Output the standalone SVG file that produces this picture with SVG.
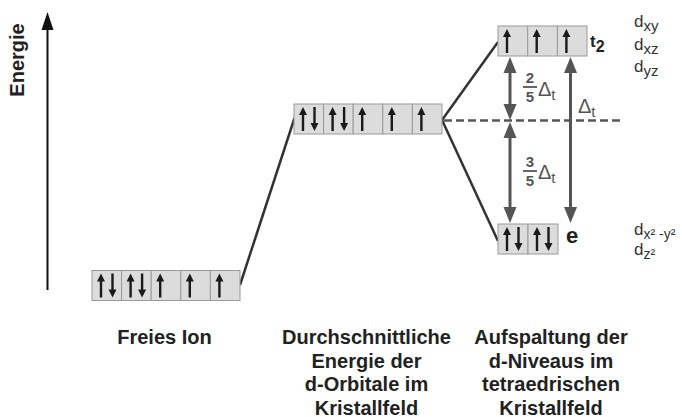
<svg xmlns="http://www.w3.org/2000/svg" width="682" height="417" viewBox="0 0 682 417">
  <style>
    .box { fill: #dcdcdc; stroke: #9a9a9a; stroke-width: 1; }
    .spin { fill: #1a1a1a; }
    .link { stroke: #333; stroke-width: 2.5; fill: none; }
    .gap { stroke: #555; stroke-width: 3; fill: none; }
    .head { fill: #555; }
    .dash { stroke: #555; stroke-width: 2.5; stroke-dasharray: 8 4; fill: none; }
    .cap { font-family: "Liberation Sans", Arial, sans-serif; font-weight: bold; font-size: 20px; fill: #222; text-anchor: middle; }
    .frac { font-family: "Liberation Sans", Arial, sans-serif; font-weight: bold; font-size: 15px; fill: #555; text-anchor: middle; }
    .delta { font-family: "Liberation Sans", Arial, sans-serif; font-size: 20px; fill: #555; }
    .orb { font-family: "Liberation Sans", Arial, sans-serif; font-size: 17px; fill: #333; }
    .lvl { font-family: "Liberation Sans", Arial, sans-serif; font-weight: bold; fill: #222; }
  </style>
  <defs>
    <!-- spin arrows, drawn relative to (arrow x, box top) -->
    <path id="up" class="spin" d="M-1.2,27 V11 H-4 L0,3 L4,11 H1.2 V27 Z"/>
    <path id="down" class="spin" d="M-1.2,3 V19 H-4 L0,27 L4,19 H1.2 V3 Z"/>
    <!-- arrowheads for the splitting gaps, tip at the origin -->
    <path id="tipUp" class="head" d="M0,0 L-6.5,16 L6.5,16 Z"/>
    <path id="tipDown" class="head" d="M0,0 L-6.5,-16 L6.5,-16 Z"/>
  </defs>

  <!-- energy axis -->
  <g id="axis">
    <line x1="47.5" y1="290" x2="47.5" y2="26" stroke="#111" stroke-width="2"/>
    <path d="M47.5,12 L41.5,30 L53.5,30 Z" fill="#111"/>
    <text class="cap" transform="translate(24,60) rotate(-90)">Energie</text>
  </g>

  <!-- connectors -->
  <g id="connectors">
    <line class="link" x1="240" y1="285" x2="294.5" y2="118"/>
    <line class="link" x1="442" y1="120" x2="498" y2="42"/>
    <line class="link" x1="442" y1="120" x2="498" y2="241"/>
    <line class="dash" x1="444" y1="120.5" x2="621" y2="120.5"/>
    <line class="gap" x1="510" y1="70" x2="510" y2="107"/>
    <use href="#tipUp" x="510" y="57"/><use href="#tipDown" x="510" y="120"/>
    <line class="gap" x1="510" y1="134" x2="510" y2="210"/>
    <use href="#tipUp" x="510" y="122"/><use href="#tipDown" x="510" y="223"/>
    <line class="gap" x1="570.5" y1="70" x2="570.5" y2="210"/>
    <use href="#tipUp" x="570.5" y="57"/><use href="#tipDown" x="570.5" y="223"/>
  </g>

  <!-- free ion: five degenerate d orbitals -->
  <g id="free-ion">
    <rect class="box" x="92" y="270.5" width="29.6" height="30"/>
    <rect class="box" x="121.6" y="270.5" width="29.6" height="30"/>
    <rect class="box" x="151.2" y="270.5" width="29.6" height="30"/>
    <rect class="box" x="180.8" y="270.5" width="29.6" height="30"/>
    <rect class="box" x="210.4" y="270.5" width="29.6" height="30"/>
    <use href="#up" x="101" y="270.5"/><use href="#down" x="112.5" y="270.5"/>
    <use href="#up" x="130.6" y="270.5"/><use href="#down" x="142.1" y="270.5"/>
    <use href="#up" x="160.2" y="270.5"/>
    <use href="#up" x="189.8" y="270.5"/>
    <use href="#up" x="219.4" y="270.5"/>
    <text class="cap" x="164.5" y="344">Freies Ion</text>
  </g>

  <!-- mean energy in the crystal field -->
  <g id="average">
    <rect class="box" x="294" y="104" width="29.6" height="30"/>
    <rect class="box" x="323.6" y="104" width="29.6" height="30"/>
    <rect class="box" x="353.2" y="104" width="29.6" height="30"/>
    <rect class="box" x="382.8" y="104" width="29.6" height="30"/>
    <rect class="box" x="412.4" y="104" width="29.6" height="30"/>
    <use href="#up" x="303" y="104"/><use href="#down" x="314.5" y="104"/>
    <use href="#up" x="332.6" y="104"/><use href="#down" x="344.1" y="104"/>
    <use href="#up" x="362.2" y="104"/>
    <use href="#up" x="391.8" y="104"/>
    <use href="#up" x="421.4" y="104"/>
    <text class="cap" x="366.5" y="344">Durchschnittliche</text>
    <text class="cap" x="366.5" y="367.5">Energie der</text>
    <text class="cap" x="366.5" y="391">d-Orbitale im</text>
    <text class="cap" x="366.5" y="414.5">Kristallfeld</text>
  </g>

  <!-- t2 set -->
  <g id="t2">
    <rect class="box" x="498" y="26" width="29.7" height="30"/>
    <rect class="box" x="527.7" y="26" width="29.7" height="30"/>
    <rect class="box" x="557.4" y="26" width="29.6" height="30"/>
    <use href="#up" x="507" y="26"/>
    <use href="#up" x="536.7" y="26"/>
    <use href="#up" x="566.4" y="26"/>
    <text class="lvl" x="590" y="47" font-size="17">t<tspan font-size="16" dy="5">2</tspan></text>
    <text class="orb" x="634" y="27">d<tspan font-size="15" dy="4">xy</tspan></text>
    <text class="orb" x="634" y="50">d<tspan font-size="15" dy="4">xz</tspan></text>
    <text class="orb" x="634" y="72">d<tspan font-size="15" dy="4">yz</tspan></text>
  </g>

  <!-- e set -->
  <g id="e">
    <rect class="box" x="498" y="224" width="30" height="30"/>
    <rect class="box" x="528" y="224" width="30" height="30"/>
    <use href="#up" x="507" y="224"/><use href="#down" x="518.5" y="224"/>
    <use href="#up" x="537" y="224"/><use href="#down" x="548.5" y="224"/>
    <text class="lvl" x="566" y="243" font-size="22">e</text>
    <text class="orb" x="634" y="235">d<tspan font-size="14" dy="4">x² -y²</tspan></text>
    <text class="orb" x="634" y="255">d<tspan font-size="14" dy="4">z²</tspan></text>
  </g>

  <!-- splitting labels -->
  <g id="splitting">
    <text class="frac" x="530" y="83">2</text>
    <line x1="523" y1="87" x2="537" y2="87" stroke="#555" stroke-width="1.8"/>
    <text class="frac" x="530" y="102">5</text>
    <text class="delta" x="538" y="96">Δ<tspan font-size="15" dy="4">t</tspan></text>
    <text class="frac" x="530" y="167">3</text>
    <line x1="523" y1="171" x2="537" y2="171" stroke="#555" stroke-width="1.8"/>
    <text class="frac" x="530" y="186">5</text>
    <text class="delta" x="538" y="179">Δ<tspan font-size="15" dy="4">t</tspan></text>
    <text class="delta" x="578" y="113">Δ<tspan font-size="15" dy="4">t</tspan></text>
    <text class="cap" x="551" y="344">Aufspaltung der</text>
    <text class="cap" x="551" y="367.5">d-Niveaus im</text>
    <text class="cap" x="551" y="391">tetraedrischen</text>
    <text class="cap" x="551" y="414.5">Kristallfeld</text>
  </g>
</svg>
